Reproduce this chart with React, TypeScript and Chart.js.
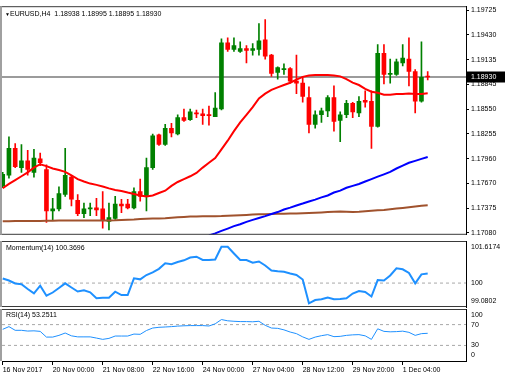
import React, { useEffect, useRef } from 'react';
import { Chart, registerables } from 'chart.js';

Chart.register(...registerables);

const FONT = "'Liberation Sans', Arial, sans-serif";

// ---- data ----
const symbolTitle = 'EURUSD,H4  1.18938 1.18995 1.18895 1.18930';
const momTitle = 'Momentum(14) 100.3696';
const rsiTitle = 'RSI(14) 53.2511';
const lastPrice = 1.1893;

const xTickBars = [0, 8, 16, 24, 32, 40, 48, 56, 64];
const xTickLabels = ['16 Nov 2017', '20 Nov 00:00', '21 Nov 08:00', '22 Nov 16:00', '24 Nov 00:00', '27 Nov 04:00', '28 Nov 12:00', '29 Nov 20:00', '1 Dec 04:00'];

const priceTicks = [1.1708, 1.17375, 1.1767, 1.1796, 1.18255, 1.1855, 1.18845, 1.19135, 1.1943, 1.19725];
const momTicks = [101.6174, 100, 99.0802];
const momTickLabels = ['101.6174', '100', '99.0802'];
const rsiTicks = [100, 70, 30, 0];
const momLevels = [100];
const rsiLevels = [70, 30];

const opens = [1.17638, 1.17764, 1.18083, 1.17855, 1.17935, 1.17798, 1.17958, 1.17832, 1.17342, 1.17365, 1.17536, 1.17741, 1.17467, 1.17308, 1.17365, 1.17376, 1.17365, 1.17217, 1.17251, 1.17422, 1.17422, 1.17376, 1.1757, 1.17513, 1.17855, 1.18243, 1.18129, 1.18322, 1.18254, 1.18448, 1.18425, 1.18505, 1.18493, 1.18482, 1.18459, 1.1855, 1.19337, 1.19257, 1.19234, 1.19269, 1.19246, 1.19257, 1.19371, 1.19189, 1.18984, 1.19018, 1.19029, 1.18881, 1.18858, 1.18687, 1.18368, 1.18482, 1.18528, 1.18687, 1.18414, 1.18482, 1.18619, 1.18505, 1.18653, 1.18642, 1.18345, 1.19212, 1.18961, 1.18961, 1.19098, 1.19143, 1.18995, 1.18642, 1.18938];
const highs = [1.17798, 1.1822, 1.1814, 1.18129, 1.1806, 1.18072, 1.18026, 1.17889, 1.1749, 1.17627, 1.18083, 1.17764, 1.17536, 1.17433, 1.17433, 1.1749, 1.1757, 1.17433, 1.17513, 1.17479, 1.17479, 1.17616, 1.17718, 1.17969, 1.18254, 1.18254, 1.18368, 1.18379, 1.18482, 1.1855, 1.1855, 1.18539, 1.1855, 1.18585, 1.18744, 1.19383, 1.19394, 1.19394, 1.19348, 1.19303, 1.19326, 1.19565, 1.19611, 1.192, 1.19052, 1.19086, 1.19041, 1.19189, 1.18938, 1.18813, 1.18528, 1.18562, 1.1871, 1.18824, 1.18516, 1.18653, 1.1863, 1.18699, 1.18767, 1.18767, 1.19314, 1.19314, 1.19143, 1.19143, 1.19314, 1.19394, 1.19018, 1.19348, 1.18995];
const lows = [1.17616, 1.1773, 1.17855, 1.17798, 1.17764, 1.17741, 1.17878, 1.17205, 1.17228, 1.17342, 1.17513, 1.17399, 1.17285, 1.17262, 1.17285, 1.17285, 1.17137, 1.17114, 1.17239, 1.17319, 1.17365, 1.17365, 1.17456, 1.17342, 1.17832, 1.18117, 1.18117, 1.1822, 1.18243, 1.18402, 1.18414, 1.18448, 1.18368, 1.18357, 1.18459, 1.18539, 1.19234, 1.19234, 1.19223, 1.19098, 1.19189, 1.19189, 1.19143, 1.18938, 1.18904, 1.18961, 1.18858, 1.18733, 1.1863, 1.18265, 1.18322, 1.18391, 1.18459, 1.18288, 1.18163, 1.18448, 1.18448, 1.18459, 1.18573, 1.18083, 1.18334, 1.18847, 1.18858, 1.18949, 1.19063, 1.18824, 1.18505, 1.1863, 1.18895];
const closes = [1.17775, 1.18083, 1.17866, 1.17935, 1.17832, 1.17969, 1.17912, 1.17342, 1.17365, 1.17547, 1.17764, 1.17479, 1.17308, 1.17365, 1.17376, 1.17353, 1.17228, 1.17262, 1.17422, 1.17399, 1.17376, 1.1757, 1.17513, 1.17855, 1.18231, 1.18129, 1.18322, 1.18265, 1.18448, 1.18414, 1.18516, 1.18493, 1.18471, 1.18471, 1.18562, 1.19337, 1.19257, 1.19303, 1.19269, 1.19246, 1.19269, 1.1936, 1.19177, 1.18972, 1.19041, 1.19029, 1.18881, 1.18858, 1.18699, 1.18368, 1.18482, 1.18528, 1.18687, 1.18402, 1.18482, 1.18619, 1.18516, 1.18642, 1.1863, 1.18345, 1.19212, 1.18961, 1.18972, 1.19109, 1.19155, 1.18995, 1.18642, 1.18927, 1.1893];

const maRed = [1.1761, 1.17661, 1.17707, 1.17752, 1.17798, 1.17855, 1.17895, 1.17872, 1.17844, 1.17826, 1.17804, 1.17764, 1.17718, 1.1769, 1.17665, 1.1765, 1.1763, 1.17608, 1.17589, 1.17578, 1.17559, 1.17542, 1.17524, 1.17513, 1.17524, 1.17553, 1.17581, 1.17638, 1.17684, 1.17718, 1.17752, 1.17792, 1.17855, 1.17912, 1.17969, 1.18072, 1.18174, 1.18288, 1.18391, 1.18482, 1.18573, 1.18676, 1.18733, 1.18778, 1.18807, 1.18835, 1.18862, 1.18898, 1.18932, 1.18949, 1.18955, 1.18955, 1.18955, 1.18949, 1.18938, 1.18904, 1.18864, 1.18835, 1.1879, 1.18756, 1.18744, 1.18721, 1.18721, 1.18727, 1.18729, 1.18733, 1.18729, 1.18729, 1.18736];
const maBlueStart = 33;
const maBlue = [1.17049, 1.17074, 1.17103, 1.17131, 1.1716, 1.17182, 1.17211, 1.17234, 1.17257, 1.17279, 1.17304, 1.17327, 1.17357, 1.1738, 1.17405, 1.17428, 1.17453, 1.17475, 1.17502, 1.17524, 1.17559, 1.17581, 1.17616, 1.17638, 1.17661, 1.1769, 1.17718, 1.17747, 1.17775, 1.17804, 1.17844, 1.17878, 1.17912, 1.17935, 1.17958, 1.1798];
const maBrown = [1.17219, 1.17219, 1.1722, 1.1722, 1.17221, 1.17221, 1.17222, 1.17223, 1.17225, 1.17226, 1.17226, 1.17227, 1.17227, 1.17228, 1.17228, 1.17228, 1.17228, 1.17228, 1.1723, 1.17234, 1.17236, 1.17239, 1.17244, 1.17247, 1.1725, 1.17252, 1.17254, 1.17259, 1.17265, 1.17269, 1.17273, 1.17275, 1.17276, 1.17277, 1.17278, 1.17279, 1.17283, 1.17286, 1.1729, 1.17293, 1.17297, 1.173, 1.17302, 1.17304, 1.17307, 1.17308, 1.1731, 1.17311, 1.17314, 1.17316, 1.17319, 1.17323, 1.17327, 1.17331, 1.17333, 1.17331, 1.17328, 1.17331, 1.17336, 1.17342, 1.17348, 1.17353, 1.17361, 1.17368, 1.17376, 1.17384, 1.17393, 1.17401, 1.17407];

const momentum = [100.175, 100.098, 99.983, 99.952, 99.771, 99.606, 99.898, 99.514, 99.637, 99.81, 99.99, 99.829, 99.675, 99.721, 99.644, 99.417, 99.437, 99.437, 99.667, 99.54, 99.54, 100.183, 100.144, 100.31, 100.414, 100.548, 100.76, 100.725, 100.81, 100.875, 100.983, 101.014, 100.887, 100.887, 100.906, 101.398, 101.398, 101.137, 100.887, 100.887, 100.783, 100.829, 100.675, 100.483, 100.452, 100.433, 100.367, 100.31, 100.137, 99.221, 99.348, 99.375, 99.444, 99.375, 99.387, 99.417, 99.598, 99.694, 99.656, 99.483, 100.117, 100.098, 100.29, 100.567, 100.529, 100.387, 99.99, 100.337, 100.3696];
const rsi = [60.9, 66.1, 59.0, 59.0, 57.6, 58.0, 57.0, 46.0, 46.0, 49.3, 53.8, 48.4, 46.4, 46.4, 46.4, 44.1, 41.6, 43.5, 48.0, 48.0, 48.0, 51.8, 51.3, 58.6, 63.4, 64.8, 65.4, 66.1, 67.1, 67.7, 68.1, 68.1, 68.1, 67.3, 71.5, 79.7, 77.3, 76.4, 75.8, 75.8, 75.4, 76.4, 68.6, 63.4, 62.8, 59.9, 55.7, 52.6, 46.4, 41.6, 46.0, 48.7, 50.7, 46.8, 47.4, 49.3, 50.3, 50.7, 48.4, 41.6, 61.9, 57.0, 56.1, 56.5, 57.4, 55.1, 49.3, 52.6, 53.2511];

// ---- axis ranges (scale config) ----
const X_MIN = -0.112;
const X_MAX = 74.128;
const Y_MIN = 1.170572;
const Y_MAX = 1.197706;
const MOM_MIN = 99.0802;
const MOM_MAX = 101.6174;

const BULL = '#008000';
const BEAR = '#ff0000';

const font = (size = 7) => ({ family: FONT, size });

const panelPlugin = {
  id: 'panel',
  afterDraw(chart: any, _a: any, opts: any) {
    const { ctx, chartArea: a } = chart;
    const ys = chart.scales.y;
    ctx.save();
    // frame lines
    ctx.lineWidth = 1;
    ctx.strokeStyle = '#3a3a3a';
    ctx.beginPath();
    ctx.moveTo(0, a.top + 0.5);
    ctx.lineTo(a.right, a.top + 0.5);
    if (opts.bottomLine) {
      ctx.moveTo(0, a.bottom - 0.5);
      ctx.lineTo(a.right, a.bottom - 0.5);
    }
    ctx.stroke();
    ctx.strokeStyle = '#a0a0a0';
    ctx.lineWidth = 2;
    ctx.beginPath();
    ctx.moveTo(1, a.top);
    ctx.lineTo(1, a.bottom);
    ctx.stroke();

    ctx.fillStyle = '#000';
    ctx.textBaseline = 'middle';
    ctx.textAlign = 'left';
    if (opts.title) {
      if (opts.arrow) {
        ctx.font = `5px ${FONT}`;
        ctx.fillText('▼', a.left + 3, a.top + 8);
      }
      ctx.font = `7px ${FONT}`;
      ctx.fillText(opts.title, a.left + opts.titleX, a.top + opts.titleY);
    }
    if (opts.edgeValues) {
      ctx.font = `7px ${FONT}`;
      opts.edgeValues.forEach((v: number, i: number) => {
        let y = ys.getPixelForValue(v);
        y = Math.max(a.top + 6.5, Math.min(a.bottom - 5.5, y));
        ctx.fillText(opts.edgeLabels[i], ys.left + 5, y);
      });
    }
    if (opts.priceBox != null) {
      const y = ys.getPixelForValue(opts.priceBox);
      ctx.fillStyle = '#000';
      ctx.fillRect(ys.left + 1, Math.round(y) - 5.5, 38, 11);
      ctx.fillStyle = '#fff';
      ctx.font = `7px ${FONT}`;
      ctx.fillText(opts.priceBox.toFixed(5), ys.left + 5, y);
    }
    ctx.restore();
  },
};

const baseX = {
  type: 'linear',
  min: X_MIN,
  max: X_MAX,
  offset: false,
  bounds: 'data',
  display: false,
  grid: { offset: false },
};

const fixWidth = (s: any) => {
  s.width = 39;
};

export default function App() {
  const mainRef = useRef<HTMLCanvasElement>(null);
  const momRef = useRef<HTMLCanvasElement>(null);
  const rsiRef = useRef<HTMLCanvasElement>(null);

  useEffect(() => {
    const charts: Chart[] = [];
    const candleColors = opens.map((o, i) => (closes[i] >= o ? BULL : BEAR));

    charts.push(
      new Chart(mainRef.current as HTMLCanvasElement, {
        type: 'bar',
        data: {
          datasets: [
            {
              type: 'line',
              label: 'MA fast',
              data: maRed.map((v, i) => ({ x: i, y: v })),
              borderColor: '#ff0000',
              borderWidth: 2,
              pointRadius: 0,
              order: 0,
            } as any,
            {
              type: 'line',
              label: 'MA mid',
              data: maBlue.map((v, i) => ({ x: i + maBlueStart, y: v })),
              borderColor: '#0000ff',
              borderWidth: 2,
              pointRadius: 0,
              clip: 0,
              order: 0,
            } as any,
            {
              type: 'line',
              label: 'MA slow',
              data: maBrown.map((v, i) => ({ x: i, y: v })),
              borderColor: '#a0522d',
              borderWidth: 2,
              pointRadius: 0,
              order: 0,
            } as any,
            {
              type: 'bar',
              label: 'wick',
              data: lows.map((l, i) => ({ x: i, y: [l, highs[i]] })),
              backgroundColor: candleColors,
              borderWidth: 0,
              barThickness: 1,
              grouped: false,
              order: 3,
            } as any,
            {
              type: 'bar',
              label: 'body',
              data: opens.map((o, i) => ({ x: i, y: [o, closes[i]] })),
              backgroundColor: candleColors,
              borderWidth: 0,
              barThickness: 4,
              minBarLength: 1,
              grouped: false,
              order: 2,
            } as any,
            {
              type: 'line',
              label: 'bid',
              data: [
                { x: X_MIN, y: lastPrice },
                { x: X_MAX, y: lastPrice },
              ],
              borderColor: '#7a7a7a',
              borderWidth: 1.5,
              pointRadius: 0,
              order: 5,
            } as any,
          ],
        },
        options: {
          responsive: false,
          animation: false,
          events: [],
          layout: { padding: { top: 2, bottom: 1, left: 2, right: 0 } },
          plugins: {
            legend: { display: false },
            tooltip: { enabled: false },
            panel: { title: symbolTitle, arrow: true, titleX: 8, titleY: 8, priceBox: lastPrice, bottomLine: true },
          } as any,
          scales: {
            x: baseX as any,
            y: {
              type: 'linear',
              position: 'right',
              min: Y_MIN,
              max: Y_MAX,
              bounds: 'data',
              afterFit: fixWidth,
              afterBuildTicks: (s: any) => {
                s.ticks = priceTicks.map((v) => ({ value: v }));
              },
              ticks: {
                callback: (v: any) => Number(v).toFixed(5),
                font: font(7),
                color: '#000',
                padding: 2,
                autoSkip: false,
              },
              grid: { drawOnChartArea: false, tickLength: 3, color: '#000' },
              border: { color: '#000' },
            } as any,
          },
        },
        plugins: [panelPlugin as any],
      })
    );

    charts.push(
      new Chart(momRef.current as HTMLCanvasElement, {
        type: 'line',
        data: {
          datasets: [
            {
              label: 'Momentum',
              data: momentum.map((v, i) => ({ x: i, y: v })),
              borderColor: '#1e90ff',
              borderWidth: 2,
              pointRadius: 0,
              order: 0,
            },
            ...momLevels.map((lv) => ({
              label: 'level',
              data: [
                { x: X_MIN, y: lv },
                { x: X_MAX, y: lv },
              ],
              borderColor: '#a8a8a8',
              borderWidth: 1,
              borderDash: [3, 3],
              pointRadius: 0,
              order: 1,
            })),
          ] as any,
        },
        options: {
          responsive: false,
          animation: false,
          events: [],
          layout: { padding: { top: 0, bottom: 1, left: 2, right: 0 } },
          plugins: {
            legend: { display: false },
            tooltip: { enabled: false },
            panel: { title: momTitle, titleX: 4, titleY: 7, edgeValues: momTicks, edgeLabels: momTickLabels, bottomLine: true },
          } as any,
          scales: {
            x: baseX as any,
            y: {
              type: 'linear',
              position: 'right',
              min: MOM_MIN,
              max: MOM_MAX,
              bounds: 'data',
              afterFit: fixWidth,
              ticks: { display: false },
              grid: { display: false },
              border: { color: '#000' },
            } as any,
          },
        },
        plugins: [panelPlugin as any],
      })
    );

    charts.push(
      new Chart(rsiRef.current as HTMLCanvasElement, {
        type: 'line',
        data: {
          datasets: [
            {
              label: 'RSI',
              data: rsi.map((v, i) => ({ x: i, y: v })),
              borderColor: '#1e90ff',
              borderWidth: 1,
              pointRadius: 0,
              order: 0,
            },
            ...rsiLevels.map((lv) => ({
              label: 'level',
              data: [
                { x: X_MIN, y: lv },
                { x: X_MAX, y: lv },
              ],
              borderColor: '#a8a8a8',
              borderWidth: 1,
              borderDash: [3, 3],
              pointRadius: 0,
              order: 1,
            })),
          ] as any,
        },
        options: {
          responsive: false,
          animation: false,
          events: [],
          layout: { padding: { top: 1, bottom: 0, left: 2, right: 0 } },
          plugins: {
            legend: { display: false },
            tooltip: { enabled: false },
            panel: { title: rsiTitle, titleX: 4, titleY: 6, edgeValues: rsiTicks, edgeLabels: rsiTicks.map(String), bottomLine: false },
          } as any,
          scales: {
            x: {
              type: 'linear',
              min: X_MIN,
              max: X_MAX,
              offset: false,
              bounds: 'data',
              afterFit: (s: any) => {
                s.height = 20;
              },
              afterBuildTicks: (s: any) => {
                s.ticks = xTickBars.map((v) => ({ value: v }));
              },
              ticks: {
                callback: (v: any) => xTickLabels[xTickBars.indexOf(Number(v))],
                align: 'start',
                font: font(7),
                color: '#000',
                maxRotation: 0,
                autoSkip: false,
                padding: 1,
              },
              grid: { drawOnChartArea: false, tickLength: 4, color: '#000', offset: false },
              border: { color: '#000' },
            } as any,
            y: {
              type: 'linear',
              position: 'right',
              min: 0,
              max: 100,
              bounds: 'data',
              afterFit: fixWidth,
              ticks: { display: false },
              grid: { display: false },
              border: { color: '#000' },
            } as any,
          },
        },
        plugins: [panelPlugin as any],
      })
    );

    return () => charts.forEach((c) => c.destroy());
  }, []);

  return (
    <div style={{ position: 'absolute', left: 0, top: 0, width: 505, height: 381, background: '#fff', overflow: 'hidden' }}>
      <canvas ref={mainRef} width={505} height={241} style={{ position: 'absolute', left: 0, top: 0 }} />
      <canvas ref={momRef} width={505} height={67} style={{ position: 'absolute', left: 0, top: 241 }} />
      <canvas ref={rsiRef} width={505} height={73} style={{ position: 'absolute', left: 0, top: 308 }} />
    </div>
  );
}
